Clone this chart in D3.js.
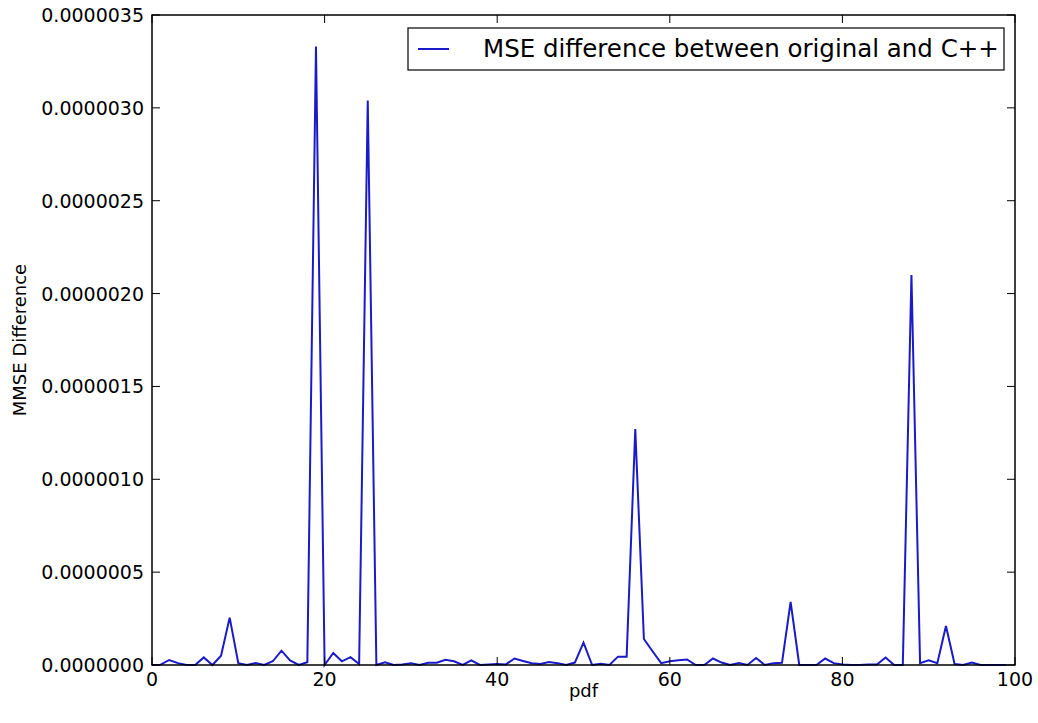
<!DOCTYPE html>
<html><head><meta charset="utf-8">
<script src="https://cdn.jsdelivr.net/npm/d3@7/dist/d3.min.js"></script>
<style>body{margin:0;background:#fff;} svg{display:block;} text{font-family:"DejaVu Sans",sans-serif;}</style>
</head><body><svg id="c" width="1038" height="723"></svg>
<script>
const pdfIndex = d3.range(0, 100);
const mmseDiff = [
 0, 0.002, 0.027, 0.01, 0, 0, 0.041, 0, 0.05, 0.255,
 0.01, 0, 0.01, 0, 0.02, 0.077, 0.025, 0, 0.015, 3.33,
 0, 0.065, 0.02, 0.042, 0.005, 3.04, 0, 0.015, 0, 0.003,
 0.01, 0, 0.012, 0.012, 0.028, 0.02, 0, 0.025, 0, 0.003,
 0.005, 0.003, 0.035, 0.022, 0.01, 0.006, 0.016, 0.01, 0, 0.013,
 0.12, 0, 0.007, 0, 0.045, 0.045, 1.27, 0.14, 0.074, 0.01,
 0.02, 0.025, 0.03, 0, 0, 0.035, 0.013, 0, 0.01, 0,
 0.038, 0, 0.01, 0.012, 0.34, 0, 0, 0, 0.035, 0.01,
 0.003, 0, 0, 0.003, 0.003, 0.04, 0, 0, 2.1, 0.01,
 0.025, 0.01, 0.21, 0.005, 0, 0.013, 0, 0, 0, 0
].map(v => v * 1e-6);
const xTicks = [0, 20, 40, 60, 80, 100];
const yTicks = [0, 0.5e-6, 1e-6, 1.5e-6, 2e-6, 2.5e-6, 3e-6, 3.5e-6];
const yTickLabels = ["0.0000000","0.0000005","0.0000010","0.0000015","0.0000020","0.0000025","0.0000030","0.0000035"];
const legendLabel = "MSE difference between original and C++";
const xLabel = "pdf", yLabel = "MMSE Difference";

const svg = d3.select("#c");
const L = 152, R = 1015, T = 15, B = 665;
const x = d3.scaleLinear().domain([0, 100]).range([L, R]);
const y = d3.scaleLinear().domain([0, 3.5e-6]).range([B, T]);

// line
const line = d3.line().x((d, i) => x(pdfIndex[i])).y(d => y(d));
svg.append("path").datum(mmseDiff).attr("d", line)
  .attr("fill", "none").attr("stroke", "#1a1ac8").attr("stroke-width", 2)
  .attr("stroke-linejoin", "miter");

// frame
svg.append("rect").attr("x", L).attr("y", T).attr("width", R - L).attr("height", B - T)
  .attr("fill", "none").attr("stroke", "#000").attr("stroke-width", 1.5);

// ticks (inside, both sides)
const tl = 8;
const g = svg.append("g").attr("stroke", "#000").attr("stroke-width", 1);
xTicks.forEach(t => {
  g.append("line").attr("x1", x(t)).attr("x2", x(t)).attr("y1", B).attr("y2", B - tl);
  g.append("line").attr("x1", x(t)).attr("x2", x(t)).attr("y1", T).attr("y2", T + tl);
});
yTicks.forEach(t => {
  g.append("line").attr("x1", L).attr("x2", L + tl).attr("y1", y(t)).attr("y2", y(t));
  g.append("line").attr("x1", R).attr("x2", R - tl).attr("y1", y(t)).attr("y2", y(t));
});

// tick labels
svg.append("g").selectAll("text").data(xTicks).join("text")
  .attr("x", d => x(d)).attr("y", B + 21).attr("text-anchor", "middle")
  .attr("font-size", 19).text(d => d);
svg.append("g").selectAll("text").data(yTicks).join("text")
  .attr("x", L - 8).attr("y", d => y(d) + 7).attr("text-anchor", "end")
  .attr("font-size", 19).text((d, i) => yTickLabels[i]);

// axis labels
svg.append("text").attr("x", (L + R) / 2).attr("y", 697).attr("text-anchor", "middle")
  .attr("font-size", 18).text(xLabel);
svg.append("text").attr("transform", `translate(26,${(T + B) / 2}) rotate(-90)`)
  .attr("text-anchor", "middle").attr("font-size", 18).text(yLabel);

// legend
const lg = svg.append("g");
lg.append("rect").attr("x", 408).attr("y", 28).attr("width", 596).attr("height", 42)
  .attr("fill", "#fff").attr("stroke", "#000").attr("stroke-width", 1.2);
lg.append("line").attr("x1", 418).attr("x2", 449).attr("y1", 49).attr("y2", 49)
  .attr("stroke", "#1a1ac8").attr("stroke-width", 2);
lg.append("text").attr("x", 483).attr("y", 57).attr("font-size", 24.5).text(legendLabel);
</script></body></html>
